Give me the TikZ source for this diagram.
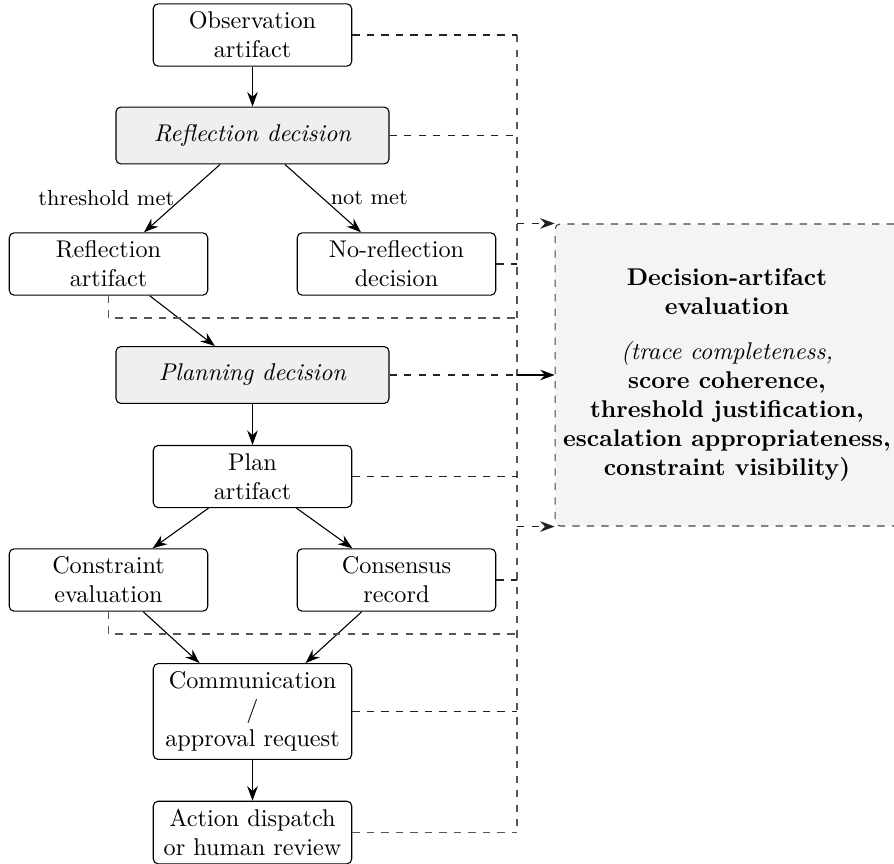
\documentclass[tikz,border=0pt]{standalone}
\usetikzlibrary{arrows.meta}

\definecolor{declfill}{HTML}{EFEFEF}
\definecolor{evalfill}{HTML}{F4F4F4}
\definecolor{dashdark}{HTML}{222222}
\definecolor{busgray}{HTML}{555555}
\definecolor{framegray}{HTML}{444444}

\tikzset{
  tip/.tip={Stealth[length=6pt, width=4.4pt, inset=2pt]},
  artifact/.style={draw, rounded corners=2pt, align=center, text width=76pt,
    inner xsep=3pt, inner ysep=3.3pt, minimum height=25.5pt},
  decisionbox/.style={draw, fill=declfill, rounded corners=2pt, font=\itshape,
    minimum width=112.8pt, minimum height=23.5pt, inner sep=3pt},
  evalbox/.style={draw=framegray, dashed, fill=evalfill, rounded corners=2pt,
    align=center, minimum width=142pt, minimum height=124.8pt, inner sep=2pt},
  flow/.style={-tip, black},
  trace/.style={draw=dashdark, dashed},
  busline/.style={draw=busgray, dashed},
  tracearrow/.style={dashdark, dashed, -tip},
  edgelabel/.style={font=\small, inner sep=3pt}
}

\begin{document}
\begin{tikzpicture}[x=0.41322pt, y=-0.41322pt, line width=0.45pt]
\useasboundingbox (0,0) rectangle (894,863);

% main pipeline
\node[artifact] (obs) at (252.5,35) {Observation\\artifact};
\node[decisionbox] (refd) at (252.5,135.5) {Reflection decision};
\node[artifact] (refa) at (108.5,264) {Reflection\\artifact};
\node[artifact] (noref) at (396.5,264) {No-reflection\\decision};
\node[decisionbox] (pland) at (252.5,375) {Planning decision};
\node[artifact] (plana) at (252.5,476.5) {Plan\\artifact};
\node[artifact] (constr) at (108.5,580) {Constraint\\evaluation};
\node[artifact] (cons) at (396.5,580) {Consensus\\record};
\node[artifact] (comm) at (252.5,711.5) {Communication\\/\\approval request};
\node[artifact] (act) at (252.5,832.5) {Action dispatch\\or human review};

% evaluation panel
\node[evalbox] (eval) at (727,375)
  {\textbf{Decision-artifact}\\\textbf{evaluation}\\[6.6pt]
   \textit{(trace completeness,}\\
   \textbf{score coherence,}\\
   \textbf{threshold justification,}\\
   \textbf{escalation appropriateness,}\\
   \textbf{constraint visibility)}};

% flow arrows
\draw[flow] (obs) -- (refd);
\draw[flow] (refd) -- node[edgelabel, left] {threshold met} (refa);
\draw[flow] (refd) -- node[edgelabel, right] {not met} (noref);
\draw[flow] (refa) -- (pland);
\draw[flow] (pland) -- (plana);
\draw[flow] (plana) -- (constr);
\draw[flow] (plana) -- (cons);
\draw[flow] (constr) -- (comm);
\draw[flow] (cons) -- (comm);
\draw[flow] (comm) -- (act);

% trace bus feeding the evaluation panel
\coordinate (bus) at (517,0);
\coordinate (rowA) at (517,318);
\coordinate (rowB) at (517,634);

\draw[busline] (obs.east -| bus) -- (act.east -| bus);
\draw[trace] (obs.east) -- (obs.east -| bus);
\draw[trace] (refd.east) -- (refd.east -| bus);
\draw[trace] (noref.east) -- (noref.east -| bus);
\draw[busline] (refa.south) |- (rowA);
\draw[trace] (pland.east) -- (pland.east -| bus);
\draw[trace] (plana.east) -- (plana.east -| bus);
\draw[trace] (cons.east) -- (cons.east -| bus);
\draw[busline] (constr.south) |- (rowB);
\draw[trace] (comm.east) -- (comm.east -| bus);
\draw[busline] (act.east) -- (act.east -| bus);

\draw[tracearrow] (eval.north west -| bus) -- (eval.north west);
\draw[-tip, black] (eval.west -| bus) -- (eval.west);
\draw[tracearrow] (eval.south west -| bus) -- (eval.south west);
\end{tikzpicture}
\end{document}
